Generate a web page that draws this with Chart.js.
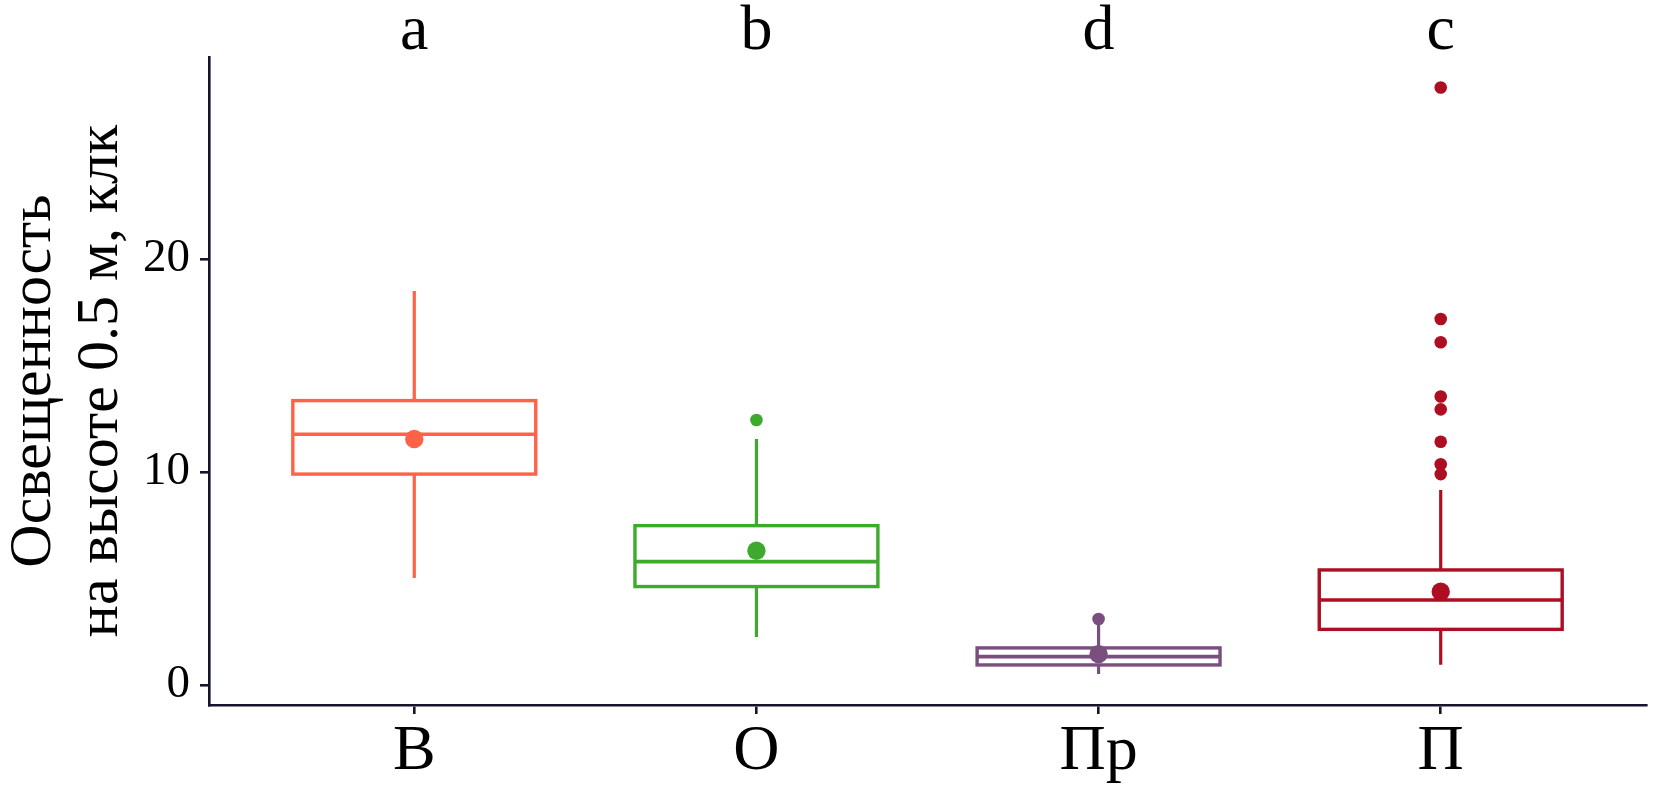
<!DOCTYPE html>
<html>
<head>
<meta charset="utf-8">
<script src="https://cdn.jsdelivr.net/npm/chart.js@4.4.1/dist/chart.umd.min.js"></script>
<style>
html,body{margin:0;padding:0;background:#fff;}
#wrap{width:1673px;height:791px;position:relative;}
</style>
</head>
<body>
<div id="wrap"><canvas id="c" width="1673" height="791"></canvas></div>
<script>
const categories = ['В', 'О', 'Пр', 'П'];
const letters = ['a', 'b', 'd', 'c'];
const colors = ['#FF6347', '#3DAA2E', '#7A4E7E', '#AE0E22'];
const q1 = [9.9, 4.62, 0.94, 2.61];
const medians = [11.77, 5.79, 1.33, 3.99];
const q3 = [13.35, 7.48, 1.74, 5.4];
const whiskerLow = [5.02, 2.25, 0.52, 0.95];
const whiskerHigh = [18.5, 11.55, 2.9, 9.15];
const means = [11.55, 6.3, 1.45, 4.38];
const outliersB = [];
const outliersO = [12.44];
const outliersPr = [3.1];
const outliersP = [28.05, 17.18, 16.09, 13.54, 12.94, 11.42, 10.36, 9.9];
const yTicks = [0, 10, 20];

const outlierSets = [outliersB, outliersO, outliersPr, outliersP];
const FONT = '"Liberation Serif", "Times New Roman", serif';
const AXIS = '#15152b';

const boxPlugin = {
  id: 'boxes',
  beforeDatasetsDraw(chart) {
    const ctx = chart.ctx, xs = chart.scales.x, ys = chart.scales.y;
    const half = 0.355;
    ctx.save();
    categories.forEach((c, i) => {
      const xc = xs.getPixelForValue(i + 1);
      const xl = xs.getPixelForValue(i + 1 - half);
      const xr = xs.getPixelForValue(i + 1 + half);
      const yq1 = ys.getPixelForValue(q1[i]);
      const yq3 = ys.getPixelForValue(q3[i]);
      const ym = ys.getPixelForValue(medians[i]);
      const ylo = ys.getPixelForValue(whiskerLow[i]);
      const yhi = ys.getPixelForValue(whiskerHigh[i]);
      ctx.strokeStyle = colors[i];
      ctx.lineWidth = 3.2;
      ctx.lineCap = 'butt';
      ctx.beginPath();
      ctx.moveTo(xc, yq3); ctx.lineTo(xc, yhi);
      ctx.moveTo(xc, yq1); ctx.lineTo(xc, ylo);
      ctx.stroke();
      ctx.lineWidth = 3.4;
      ctx.strokeRect(xl, yq3, xr - xl, yq1 - yq3);
      ctx.beginPath();
      ctx.lineWidth = 3.6;
      ctx.moveTo(xl, ym); ctx.lineTo(xr, ym);
      ctx.stroke();
    });
    ctx.restore();
  }
};

const datasets = [];
categories.forEach((c, i) => {
  datasets.push({
    type: 'scatter',
    label: c + ' outliers',
    data: outlierSets[i].map(v => ({x: i + 1, y: v})),
    backgroundColor: colors[i],
    borderColor: colors[i],
    pointRadius: 6.3,
    borderWidth: 0
  });
  datasets.push({
    type: 'scatter',
    label: c + ' mean',
    data: [{x: i + 1, y: means[i]}],
    backgroundColor: colors[i],
    borderColor: colors[i],
    pointRadius: 9.2,
    borderWidth: 0
  });
});

new Chart(document.getElementById('c'), {
  type: 'scatter',
  data: { datasets },
  plugins: [boxPlugin],
  options: {
    responsive: false,
    animation: false,
    devicePixelRatio: 1,
    layout: { padding: { left: 0, right: 27, top: 0, bottom: 0 } },
    plugins: { legend: { display: false }, tooltip: { enabled: false } },
    scales: {
      x: {
        type: 'linear', position: 'bottom', min: 0.4, max: 4.6,
        afterBuildTicks: s => { s.ticks = categories.map((c, i) => ({value: i + 1})); },
        afterFit: s => { s.height = 86; },
        ticks: {
          callback: v => categories[v - 1] || '',
          font: { family: FONT, size: 64 }, color: '#000', padding: 0, maxRotation: 0, autoSkip: false
        },
        grid: { drawOnChartArea: false, drawTicks: true, tickLength: 9, color: AXIS, lineWidth: 2.6 },
        border: { display: true, color: AXIS, width: 2.6 }
      },
      x2: {
        type: 'linear', position: 'top', min: 0.4, max: 4.6,
        afterBuildTicks: s => { s.ticks = letters.map((c, i) => ({value: i + 1})); },
        afterFit: s => { s.height = 57; },
        ticks: {
          callback: v => letters[v - 1] || '',
          font: { family: FONT, size: 64 }, color: '#000', padding: -14, maxRotation: 0, autoSkip: false
        },
        grid: { display: false, drawTicks: false },
        border: { display: false }
      },
      y: {
        type: 'linear', min: -0.94, max: 29.48,
        afterBuildTicks: s => { s.ticks = yTicks.map(v => ({value: v})); },
        afterFit: s => { s.width = 209; },
        ticks: { font: { family: FONT, size: 47 }, color: '#000', padding: 10 },
        grid: { drawOnChartArea: false, drawTicks: true, tickLength: 9, color: AXIS, lineWidth: 2.6 },
        border: { display: true, color: AXIS, width: 2.6 },
        title: {
          display: true,
          text: ['Освещенность', 'на высоте 0.5 м, клк'],
          font: { family: FONT, size: 60, lineHeight: 1.13 },
          color: '#000',
          padding: { top: 0, bottom: 0 }
        }
      }
    }
  }
});
</script>
</body>
</html>
